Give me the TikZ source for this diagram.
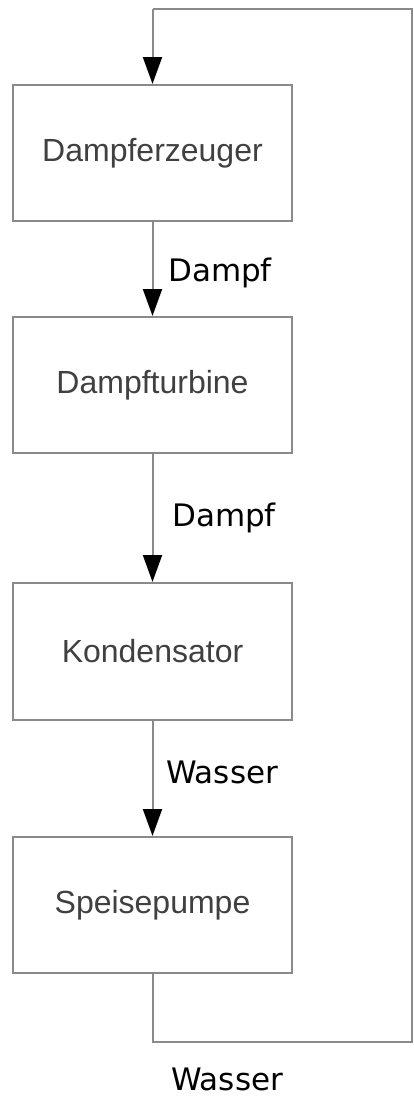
\documentclass[tikz,border=0pt]{standalone}
\usepackage{fontspec}
\setmainfont{Liberation Sans}
\newfontfamily\flowfont{DejaVu Sans}
\usetikzlibrary{arrows.meta}
\definecolor{linegray}{HTML}{8A8A8A}
\definecolor{textgray}{HTML}{404040}
\begin{document}
\begin{tikzpicture}[x=1pt,y=-1pt,
  unitbox/.style={draw=linegray,line width=2pt,fill=white,minimum width=279pt,
    inner sep=0pt,text=textgray,font=\fontsize{32}{38}\selectfont},
  flow/.style={draw=linegray,line width=2pt,-{Triangle[width=19pt,length=27pt,color=black]}},
  pipe/.style={draw=linegray,line width=2pt},
  medium/.style={anchor=base west,inner sep=0pt,text=black,font=\flowfont\fontsize{31}{36}\selectfont}]
  \useasboundingbox (0,0) rectangle (413,1098);

  % plant components
  \node[unitbox,minimum height=136pt] (gen)  at (152.5,153)   {Dampferzeuger};
  \node[unitbox,minimum height=136pt] (turb) at (152.5,385)   {Dampfturbine};
  \node[unitbox,minimum height=137pt] (cond) at (152.5,651.5) {Kondensator};
  \node[unitbox,minimum height=136pt] (pump) at (152.5,905)   {Speisepumpe};

  % return line corners
  \coordinate (lowL) at (152.5,1042);
  \coordinate (lowR) at (411.5,1042);
  \coordinate (topR) at (411.5,9);
  \coordinate (topL) at (152.5,9);

  % flow between components
  \draw[flow] (gen.south) -- (turb.north);
  \draw[flow] (turb.south) -- (cond.north);
  \draw[flow] (cond.south) -- (pump.north);
  \draw[pipe] (pump.south) -- (lowL) -- (lowR) -- (topR) -- (topL);
  \draw[flow] (topL) -- (gen.north);

  % media labels
  \node[medium] (m1) at (168,281)  {Dampf};
  \node[medium] (m2) at (172,526)  {Dampf};
  \node[medium] (m3) at (166,783)  {Wasser};
  \node[medium] (m4) at (171,1090) {Wasser};
\end{tikzpicture}
\end{document}
